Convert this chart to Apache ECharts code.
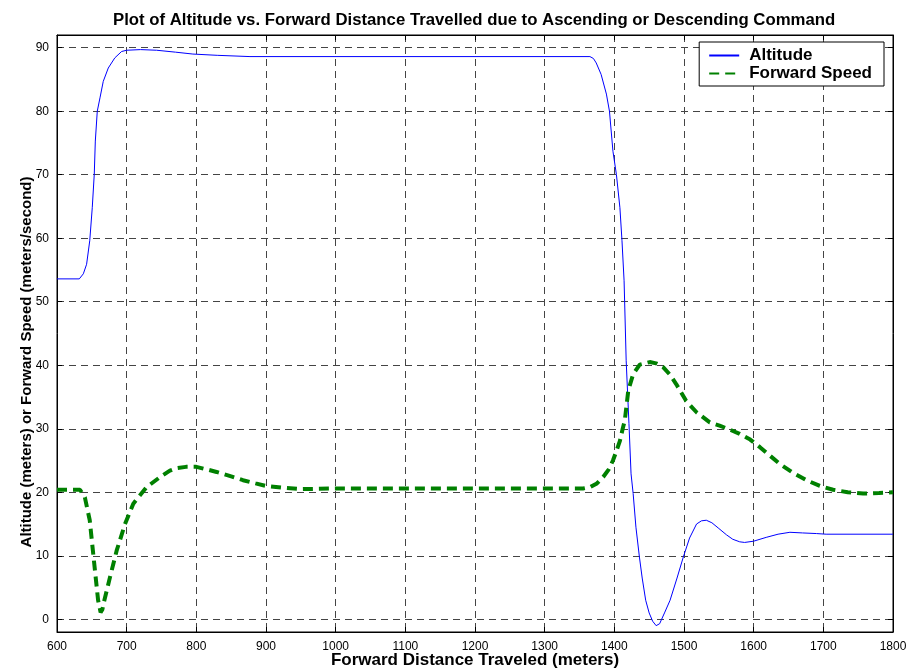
<!DOCTYPE html>
<html>
<head>
<meta charset="utf-8">
<script src="https://cdn.jsdelivr.net/npm/echarts@6/dist/echarts.min.js"></script>
<style>
html,body{margin:0;padding:0;background:#fff;}
#chart{width:909px;height:671px;}
</style>
</head>
<body>
<div id="chart"></div>
<script>
const titleText = 'Plot of Altitude vs. Forward Distance Travelled due to Ascending or Descending Command';
const xAxisTitle = 'Forward Distance Traveled (meters)';
const yAxisTitle = 'Altitude (meters) or Forward Speed (meters/second)';
const seriesNames = ['Altitude', 'Forward Speed'];
const yTickValues = [0, 10, 20, 30, 40, 50, 60, 70, 80, 90];

const altX = [600, 632, 637.8, 642.5, 647, 650.6, 653.5, 655, 657.8, 661.7, 666.4, 673.6, 683, 692.7, 700, 720, 743, 770, 795, 830, 877, 1365, 1370, 1374, 1381, 1388.6, 1393, 1398, 1403, 1408, 1411, 1414, 1417, 1421, 1424, 1427, 1431, 1436, 1440, 1445, 1450, 1455, 1460, 1465, 1472, 1480, 1490, 1499, 1508, 1518, 1525, 1532, 1540, 1550, 1561, 1570, 1580, 1587, 1600, 1618, 1635, 1652, 1670, 1690, 1704, 1800];
const altY = [53.6, 53.6, 54.4, 55.9, 59.6, 64.8, 70.1, 75.3, 80, 82.1, 84.7, 86.8, 88.4, 89.4, 89.6, 89.7, 89.6, 89.3, 89.0, 88.8, 88.6, 88.6, 88.3, 87.6, 85.8, 82.7, 80, 73.7, 70, 64.8, 59.6, 53.3, 40.7, 30.8, 22.9, 19.8, 14.5, 9.8, 6.5, 3, 1, -0.3, -1, -0.7, 1, 3, 6.5, 9.8, 12.8, 15, 15.5, 15.6, 15.2, 14.3, 13.3, 12.6, 12.2, 12.1, 12.3, 12.9, 13.4, 13.7, 13.6, 13.5, 13.4, 13.4];

const spdX = [600, 633, 640, 647, 652, 656, 659, 662.6, 665, 668, 676, 685.6, 697.6, 709.5, 728.6, 748, 762, 772, 785, 800, 815, 829, 850, 867, 885, 900, 925, 950, 1000, 1355, 1365, 1375, 1384, 1392, 1398, 1403, 1408, 1412, 1415, 1420, 1427, 1436.5, 1450.8, 1460, 1470, 1480, 1489, 1503, 1518, 1537, 1551, 1565, 1580, 1595, 1609, 1623, 1637, 1656, 1676, 1695, 1714, 1735, 1757, 1780, 1800];
const spdY = [20.4, 20.4, 19.2, 15.6, 10.3, 6.1, 3, 1.1, 1.5, 3, 6.6, 10.8, 15, 18.2, 20.8, 22.4, 23.4, 23.8, 24.0, 24.0, 23.6, 23.2, 22.5, 21.9, 21.4, 21.0, 20.7, 20.5, 20.6, 20.6, 20.8, 21.4, 22.4, 23.6, 25, 26.5, 28.1, 30, 31.3, 36, 38.6, 40.1, 40.5, 40.3, 39.7, 38.5, 37, 34.4, 32.6, 31, 30.5, 29.9, 29.2, 28.3, 27.1, 25.8, 24.5, 23.1, 21.9, 21.0, 20.4, 20, 19.8, 19.9, 20];

const altData = altX.map((x, i) => [x, altY[i]]);
const spdData = spdX.map((x, i) => [x, spdY[i]]);

const FONT = 'Liberation Sans, Arial, sans-serif';
const chart = echarts.init(document.getElementById('chart'), null, {renderer: 'canvas'});

const gridLine = {show: true, lineStyle: {color: '#444', type: [7, 5], width: 1}};
const tickIn = {show: true, inside: true, length: 5, lineStyle: {color: '#000', width: 1}};

chart.setOption({
  animation: false,
  backgroundColor: '#fff',
  title: {
    text: titleText,
    left: 108,
    top: 7,
    textStyle: {fontFamily: FONT, fontSize: 16.75, fontWeight: 'bold', color: '#000'}
  },
  grid: {left: 57, right: 16, top: 35, bottom: 39, show: true, borderColor: '#000', borderWidth: 1, containLabel: false, outerBoundsMode: 'none'},
  legend: {
    data: seriesNames,
    orient: 'vertical',
    right: 25,
    top: 42,
    backgroundColor: '#fff',
    borderColor: '#000',
    borderWidth: 1,
    padding: [5, 12, 4, 9],
    itemGap: 1,
    itemWidth: 30,
    itemHeight: 16,
    itemStyle: {opacity: 0},
    textStyle: {fontFamily: FONT, fontSize: 17, fontWeight: 'bold', color: '#000', padding: [0, 0, 0, 5]}
  },
  graphic: [{
    type: 'text',
    x: 27, y: 362,
    rotation: Math.PI / 2,
    style: {text: yAxisTitle, font: 'bold 15px ' + FONT, fill: '#000', align: 'center', verticalAlign: 'middle'}
  }],
  xAxis: [{
    type: 'value', min: 600, max: 1800, interval: 100,
    name: xAxisTitle, nameLocation: 'middle', nameGap: 20, nameMoveOverlap: false,
    nameTextStyle: {fontFamily: FONT, fontSize: 17, fontWeight: 'bold', color: '#000'},
    axisLine: {show: true, onZero: false, lineStyle: {color: '#000'}},
    axisTick: tickIn,
    axisLabel: {fontFamily: FONT, fontSize: 12, color: '#000', margin: 9, formatter: v => String(v)},
    splitLine: gridLine
  }, {
    type: 'value', min: 600, max: 1800, interval: 100, position: 'top',
    axisLine: {show: true, onZero: false, lineStyle: {color: '#000'}},
    axisTick: tickIn, axisLabel: {show: false}, splitLine: {show: false}
  }],
  yAxis: [{
    type: 'value', min: -2, max: 92,
    axisLine: {show: true, onZero: false, lineStyle: {color: '#000'}},
    axisTick: Object.assign({}, tickIn, {customValues: yTickValues}),
    axisLabel: {fontFamily: FONT, fontSize: 12, color: '#000', margin: 8, customValues: yTickValues},
    splitLine: gridLine
  }, {
    type: 'value', min: -2, max: 92, position: 'right',
    axisLine: {show: true, onZero: false, lineStyle: {color: '#000'}},
    axisTick: Object.assign({}, tickIn, {customValues: yTickValues}),
    axisLabel: {show: false, customValues: yTickValues}, splitLine: {show: false}
  }],
  series: [{
    name: seriesNames[0], type: 'line', data: altData,
    xAxisIndex: 0, yAxisIndex: 0,
    showSymbol: false, symbol: 'none', smooth: false,
    lineStyle: {color: '#0000ff', width: 1},
    itemStyle: {color: '#0000ff'}
  }, {
    name: seriesNames[1], type: 'line', data: spdData,
    xAxisIndex: 0, yAxisIndex: 0,
    showSymbol: false, symbol: 'none', smooth: false,
    lineStyle: {color: '#008000', width: 4, type: [10, 6]},
    itemStyle: {color: '#008000'}
  }]
});
</script>
</body>
</html>
